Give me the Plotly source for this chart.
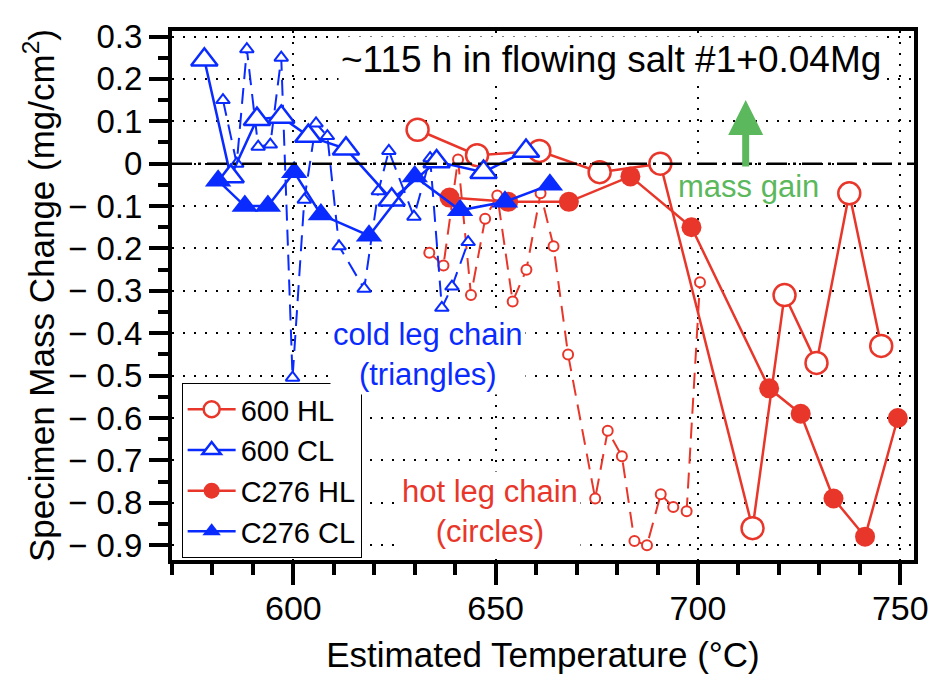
import plotly.graph_objects as go

# ---------------- data ----------------
hl600_x = [630.7, 645.4, 660.8, 675.7, 690.7, 713.5, 721.4, 729.3, 737.4, 745.3]
hl600_y = [0.08, 0.02, 0.03, -0.02, 0.0, -0.86, -0.31, -0.47, -0.07, -0.43]

cl600_x = [578.0, 584.5, 591.0, 597.0, 603.7, 613.0, 624.3, 635.4, 647.0, 657.5]
cl600_y = [0.245, -0.03, 0.105, 0.11, 0.065, 0.035, -0.085, 0.005, -0.02, 0.03]

c276hl_x = [638.6, 653.1, 668.1, 683.3, 698.4, 717.6, 725.4, 733.5, 741.3, 749.4]
c276hl_y = [-0.08, -0.09, -0.09, -0.03, -0.15, -0.53, -0.59, -0.79, -0.88, -0.60]

c276cl_x = [581.4, 588.0, 593.7, 600.2, 606.8, 618.7, 630.0, 641.2, 652.3, 663.4]
c276cl_y = [-0.04, -0.10, -0.10, -0.02, -0.12, -0.17, -0.03, -0.11, -0.09, -0.05]

# individual chain specimens (small markers, dashed)
chain_cl_x = [582.6, 586.0, 588.5, 591.3, 594.3, 597.0, 599.8, 602.7, 605.6, 608.4,
              611.3, 617.5, 621.0, 623.6, 629.8, 633.8, 636.7, 639.2, 643.2]
chain_cl_y = [0.15, 0.0, 0.27, 0.04, 0.045, 0.25, -0.505, -0.085, 0.095, 0.065,
              -0.195, -0.295, -0.065, 0.03, -0.125, 0.013, -0.34, -0.29, -0.185]

chain_hl_x = [633.6, 637.1, 640.7, 643.9, 647.4, 650.4, 654.2, 657.6, 661.1, 664.3,
              667.9, 674.6, 677.7, 681.2, 684.3, 687.4, 690.8, 693.9, 697.2, 700.5]
chain_hl_y = [-0.21, -0.24, 0.01, -0.31, -0.13, -0.075, -0.325, -0.25, -0.07, -0.195,
              -0.45, -0.79, -0.63, -0.69, -0.89, -0.90, -0.78, -0.81, -0.82, -0.28]

# y tick labels (wide minus as in the original figure)
y_tickvals = [0.3, 0.2, 0.1, 0.0, -0.1, -0.2, -0.3, -0.4, -0.5, -0.6, -0.7, -0.8, -0.9]
y_ticktext = ["0.3", "0.2", "0.1", "0", "\u2212 0.1", "\u2212 0.2", "\u2212 0.3",
              "\u2212 0.4", "\u2212 0.5", "\u2212 0.6", "\u2212 0.7",
              "\u2212 0.8", "\u2212 0.9"]

RED = "#E8372A"
BLUE = "#0A2BFF"
GREEN = "#5CB85C"
FONT = "Liberation Sans, Arial, Helvetica, sans-serif"

fig = go.Figure()

# dashed chain traces (not in legend)
fig.add_trace(go.Scatter(
    x=chain_hl_x, y=chain_hl_y, mode="lines+markers", showlegend=False,
    line=dict(color=RED, width=2, dash="16px,9px"),
    marker=dict(symbol="circle", size=10, color="white", line=dict(color=RED, width=2)),
))
fig.add_trace(go.Scatter(
    x=chain_cl_x, y=chain_cl_y, mode="lines+markers", showlegend=False,
    line=dict(color=BLUE, width=2, dash="16px,9px"),
    marker=dict(symbol="triangle-up", size=12, color="white", line=dict(color=BLUE, width=2)),
))

# main series
fig.add_trace(go.Scatter(
    x=hl600_x, y=hl600_y, mode="lines+markers", name="600 HL", legendrank=1,
    line=dict(color=RED, width=2.5),
    marker=dict(symbol="circle", size=22, color="white", line=dict(color=RED, width=2.5)),
))
fig.add_trace(go.Scatter(
    x=c276hl_x, y=c276hl_y, mode="lines+markers", name="C276 HL", legendrank=3,
    line=dict(color=RED, width=2.5),
    marker=dict(symbol="circle", size=20, color=RED, line=dict(color=RED, width=0)),
))
fig.add_trace(go.Scatter(
    x=cl600_x, y=cl600_y, mode="lines+markers", name="600 CL", legendrank=2,
    line=dict(color=BLUE, width=2.5),
    marker=dict(symbol="triangle-up", size=23, color="white", line=dict(color=BLUE, width=2.5)),
))
fig.add_trace(go.Scatter(
    x=c276cl_x, y=c276cl_y, mode="lines+markers", name="C276 CL", legendrank=4,
    line=dict(color=BLUE, width=2.5),
    marker=dict(symbol="triangle-up", size=23, color=BLUE, line=dict(color=BLUE, width=0)),
))

# zero reference line (dash-dot)
fig.add_shape(type="line", xref="paper", yref="y", x0=0, x1=1, y0=0, y1=0,
              line=dict(color="black", width=2.5, dash="20px,6px,3px,6px"), layer="above")

annotations = [
    dict(x=678.5, y=0.246, text="~115 h in flowing salt #1+0.04Mg", showarrow=False,
         font=dict(size=37, color="black"), bgcolor="white", borderpad=2),
    dict(x=633.2, y=-0.45, text="cold leg chain<br>(triangles)", showarrow=False,
         font=dict(size=31, color=BLUE), bgcolor="white", borderpad=2),
    dict(x=648.7, y=-0.82, text="hot leg chain<br>(circles)", showarrow=False,
         font=dict(size=31, color=RED), bgcolor="white", borderpad=2),
    dict(x=712.5, y=-0.055, text="mass gain", showarrow=False,
         font=dict(size=31, color=GREEN), bgcolor="white", borderpad=0),
    dict(x=711.8, y=0.15, ax=711.8, ay=-0.01, axref="x", ayref="y", text="",
         showarrow=True, arrowhead=2, arrowwidth=7, arrowsize=1, arrowcolor=GREEN),
]

fig.update_layout(
    width=941, height=686,
    margin=dict(l=172, r=23, t=31, b=126),
    paper_bgcolor="white", plot_bgcolor="white",
    font=dict(family=FONT, color="black"),
    annotations=annotations,
    showlegend=True,
    legend=dict(x=0.013, y=0.004, xanchor="left", yanchor="bottom",
                bgcolor="white", bordercolor="black", borderwidth=1,
                font=dict(size=29), tracegroupgap=0, itemwidth=48),
    xaxis=dict(
        range=[570, 753.4], tick0=600, dtick=50,
        ticks="outside", ticklen=21, tickwidth=3.5, tickcolor="black",
        showline=True, linewidth=4, linecolor="black", mirror=True,
        showgrid=True, gridcolor="black", gridwidth=2, griddash="2px,9px",
        zeroline=False, tickfont=dict(size=34), ticklabelstandoff=-6,
        minor=dict(dtick=10, tick0=600, ticks="outside", ticklen=11, tickwidth=3.5,
                   tickcolor="black", showgrid=False),
        title=dict(text="Estimated Temperature (°C)", font=dict(size=35), standoff=18),
    ),
    yaxis=dict(
        range=[-0.935, 0.313], tickmode="array", tickvals=y_tickvals, ticktext=y_ticktext,
        ticks="outside", ticklen=19, tickwidth=3.5, tickcolor="black",
        showline=True, linewidth=4, linecolor="black", mirror=True,
        showgrid=True, gridcolor="black", gridwidth=2, griddash="2px,9px",
        zeroline=False, tickfont=dict(size=33),
        minor=dict(dtick=0.05, tick0=0, ticks="outside", ticklen=10, tickwidth=3.5,
                   tickcolor="black", showgrid=False),
        title=dict(text="Specimen Mass Change (mg/cm<sup>2</sup>)", font=dict(size=35), standoff=4),
    ),
)

fig.write_html("out.html")
